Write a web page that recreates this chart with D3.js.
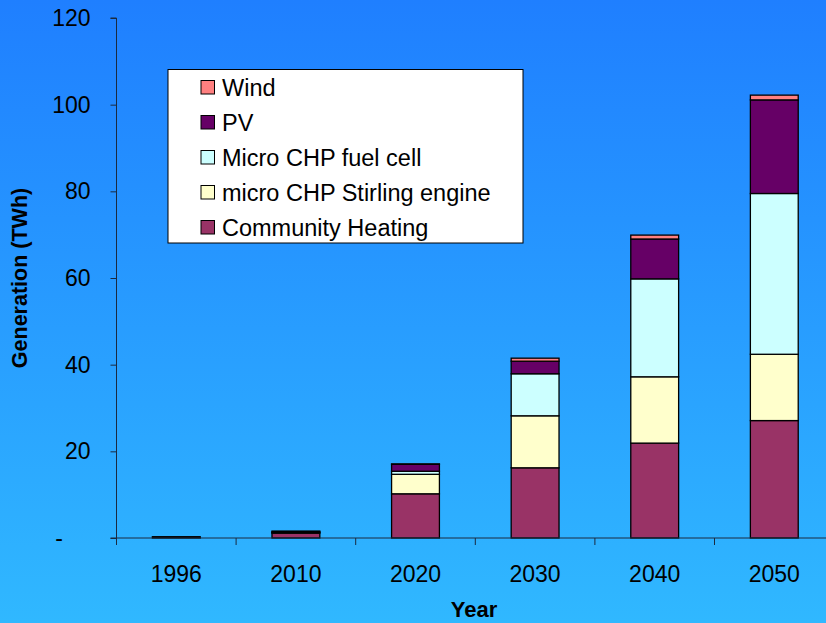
<!DOCTYPE html>
<html><head><meta charset="utf-8">
<script src="https://cdn.jsdelivr.net/npm/d3@7"></script>
<style>body{margin:0;padding:0;overflow:hidden}svg{display:block;font-family:"Liberation Sans",Arial,sans-serif}</style>
</head><body><svg id="c" width="826" height="623"></svg>
<script>
const years = ["1996","2010","2020","2030","2040","2050"];
const seriesNames = ["Community Heating","micro CHP Stirling engine","Micro CHP fuel cell","PV","Wind"];
const communityHeating = [0.3, 1.1, 10.2, 16.2, 21.9, 27.1];
const stirling = [0, 0.2, 4.5, 12.0, 15.3, 15.3];
const fuelCell = [0, 0.1, 0.7, 9.7, 22.6, 37.1];
const pv = [0, 0.2, 1.6, 2.9, 9.2, 21.6];
const wind = [0, 0.0, 0.1, 0.7, 0.9, 1.1];
const colors = ["#993366","#FFFFCC","#CCFFFF","#660066","#FF8080"];
const yTicks = [0,20,40,60,80,100,120];
const yTickLabels = ["-","20","40","60","80","100","120"];

const svg = d3.select("#c");
const defs = svg.append("defs");
const g = defs.append("linearGradient").attr("id","bg").attr("x1",0).attr("y1",0).attr("x2",0).attr("y2",1);
g.append("stop").attr("offset","0%").attr("stop-color","#1f7fff");
g.append("stop").attr("offset","100%").attr("stop-color","#30b8ff");
svg.append("rect").attr("width",826).attr("height",623).attr("fill","url(#bg)");

const left = 116.5, bandW = 119.6;
const x = d3.scaleBand().domain(years).range([left, left + bandW*years.length]).paddingInner(0.6).paddingOuter(0.3);
const y = d3.scaleLinear().domain([0,120]).range([538,18]);

const rows = years.map((yr,i)=>({year:yr, s0:communityHeating[i], s1:stirling[i], s2:fuelCell[i], s3:pv[i], s4:wind[i]}));
const stack = d3.stack().keys(["s0","s1","s2","s3","s4"])(rows);

svg.append("g").selectAll("g").data(stack).join("g")
  .attr("fill",(d,i)=>colors[i])
  .selectAll("rect").data(d=>d).join("rect")
  .attr("x",d=>x(d.data.year)).attr("width",x.bandwidth())
  .attr("y",d=>y(d[1])).attr("height",d=>Math.max(0,y(d[0])-y(d[1])))
  .attr("stroke","#000").attr("stroke-width",1.3);

// y axis
const ya = svg.append("g").attr("transform",`translate(${left},0)`)
  .call(d3.axisLeft(y).tickValues(yTicks).tickSize(6).tickPadding(20).tickFormat((d,i)=>yTickLabels[i]));
ya.attr("font-size",null).attr("font-family",null);
ya.select(".domain").attr("stroke","#1a2a40").attr("d",`M-6,${y(120)}H0V${y(0)+7}`);
ya.selectAll(".tick line").attr("stroke","#1a2a40");
ya.selectAll(".tick text").style("font-size","23px").attr("fill","#000");
ya.selectAll(".tick").filter(d=>d===0).select("text").attr("dx",-27.5);

// x axis
const xa = svg.append("g").attr("transform",`translate(0,${y(0)})`);
xa.append("path").attr("d",`M${left-6},0H826`).attr("stroke","#1a2a40").attr("fill","none");
xa.selectAll("line.t").data(d3.range(1,years.length)).join("line").attr("class","t")
  .attr("x1",i=>left+i*bandW).attr("x2",i=>left+i*bandW).attr("y1",0).attr("y2",7).attr("stroke","#1a2a40");
xa.selectAll("text").data(years).join("text")
  .attr("x",d=>x(d)+x.bandwidth()/2).attr("y",44).attr("text-anchor","middle")
  .style("font-size","23px").attr("fill","#000").text(d=>d);

svg.append("text").attr("x",474).attr("y",617).attr("text-anchor","middle")
  .style("font-size","22px").attr("font-weight","bold").text("Year");
svg.append("text").attr("transform","translate(27,278) rotate(-90)").attr("text-anchor","middle")
  .style("font-size","21.5px").attr("font-weight","bold").text("Generation (TWh)");

// legend
const lg = svg.append("g");
lg.append("rect").attr("x",168).attr("y",69.5).attr("width",355).attr("height",173.5).attr("fill","#fff").attr("stroke","#000");
const legendOrder = [4,3,2,1,0];
legendOrder.forEach((si,k)=>{
  const cy = 87 + k*35;
  lg.append("rect").attr("x",201).attr("y",cy-6.5).attr("width",13.5).attr("height",13.5)
    .attr("fill",colors[si]).attr("stroke","#000");
  lg.append("text").attr("x",222).attr("y",cy+8.5).style("font-size","23.5px").attr("fill","#000").text(seriesNames[si]);
});
</script></body></html>
